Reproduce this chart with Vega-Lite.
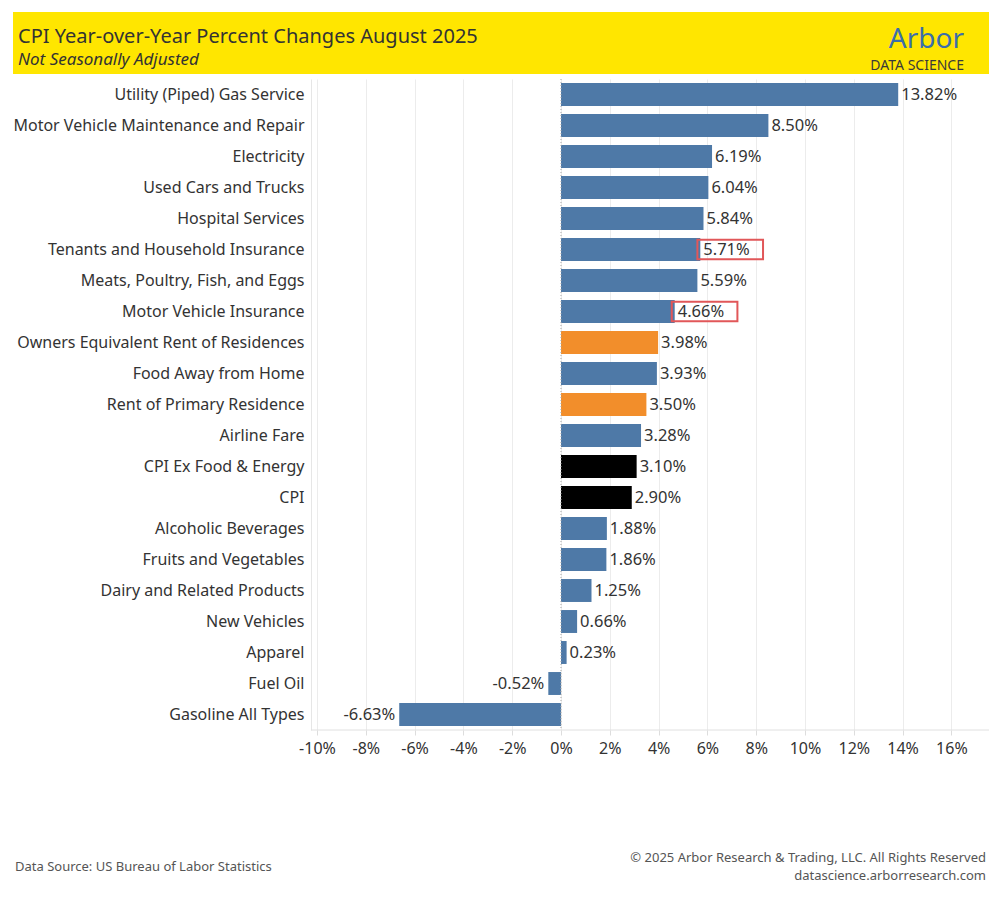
{
  "$schema": "https://vega.github.io/schema/vega-lite/v6.json",
  "padding": {"left": 12, "top": 12, "right": 12, "bottom": 0},
  "background": "white",
  "spacing": 4,
  "config": {
    "font": "Noto Sans",
    "view": {"stroke": null}
  },
  "vconcat": [
    {
      "width": 976,
      "height": 62,
      "view": {"fill": "#FFE600", "stroke": null},
      "title": {
        "text": "CPI Year-over-Year Percent Changes August 2025",
        "subtitle": "Not Seasonally Adjusted",
        "anchor": "start",
        "offset": -56,
        "dx": 5,
        "fontSize": 20,
        "fontWeight": "normal",
        "color": "#333333",
        "subtitleFontSize": 17,
        "subtitleFontStyle": "italic",
        "subtitleColor": "#333333",
        "subtitlePadding": 5
      },
      "data": {"values": [{"role": "brand", "text": "Arbor"}, {"role": "tag", "text": "DATA SCIENCE"}]},
      "layer": [
        {
          "transform": [{"filter": "datum.role === 'brand'"}],
          "mark": {"type": "text", "align": "right", "baseline": "alphabetic", "fontSize": 28, "color": "#3C6EAA", "dx": -25},
          "encoding": {"x": {"value": "width"}, "y": {"value": 36}, "text": {"field": "text"}}
        },
        {
          "transform": [{"filter": "datum.role === 'tag'"}],
          "mark": {"type": "text", "align": "right", "baseline": "middle", "fontSize": 14, "color": "#3a3a3a", "dx": -25},
          "encoding": {"x": {"value": "width"}, "y": {"value": 54}, "text": {"field": "text"}}
        }
      ]
    },
    {
      "width": 976,
      "height": 651,
      "data": {
        "values": [
          {"category": "Utility (Piped) Gas Service", "value": 13.82, "group": "Component"},
          {"category": "Motor Vehicle Maintenance and Repair", "value": 8.50, "group": "Component"},
          {"category": "Electricity", "value": 6.19, "group": "Component"},
          {"category": "Used Cars and Trucks", "value": 6.04, "group": "Component"},
          {"category": "Hospital Services", "value": 5.84, "group": "Component"},
          {"category": "Tenants and Household Insurance", "value": 5.71, "group": "Component", "flag": true},
          {"category": "Meats, Poultry, Fish, and Eggs", "value": 5.59, "group": "Component"},
          {"category": "Motor Vehicle Insurance", "value": 4.66, "group": "Component", "flag": true},
          {"category": "Owners Equivalent Rent of Residences", "value": 3.98, "group": "Shelter"},
          {"category": "Food Away from Home", "value": 3.93, "group": "Component"},
          {"category": "Rent of Primary Residence", "value": 3.50, "group": "Shelter"},
          {"category": "Airline Fare", "value": 3.28, "group": "Component"},
          {"category": "CPI Ex Food & Energy", "value": 3.10, "group": "Headline"},
          {"category": "CPI", "value": 2.90, "group": "Headline"},
          {"category": "Alcoholic Beverages", "value": 1.88, "group": "Component"},
          {"category": "Fruits and Vegetables", "value": 1.86, "group": "Component"},
          {"category": "Dairy and Related Products", "value": 1.25, "group": "Component"},
          {"category": "New Vehicles", "value": 0.66, "group": "Component"},
          {"category": "Apparel", "value": 0.23, "group": "Component"},
          {"category": "Fuel Oil", "value": -0.52, "group": "Component"},
          {"category": "Gasoline All Types", "value": -6.63, "group": "Component"}
        ]
      },
      "transform": [{"calculate": "replace(format(datum.value, '.2f'), '\u2212', '-') + '%'", "as": "label"}],
      "layer": [
        {
          "mark": {"type": "bar"},
          "encoding": {
            "y": {
              "field": "category",
              "type": "nominal",
              "sort": {"field": "value", "op": "max", "order": "descending"},
              "scale": {"paddingInner": 0.26, "paddingOuter": 0.13},
              "axis": {
                "title": null,
                "offset": -298,
                "ticks": false,
                "domain": true,
                "domainColor": "#e6e6e6",
                "labelFontSize": 16,
                "labelColor": "#333333",
                "labelPadding": 7,
                "labelLimit": 400
              }
            },
            "x": {
              "field": "value",
              "type": "quantitative",
              "scale": {"domain": [-22.459, 17.541], "nice": false, "zero": false},
              "axis": {
                "title": null,
                "values": [-10, -8, -6, -4, -2, 0, 2, 4, 6, 8, 10, 12, 14, 16],
                "labelExpr": "datum.value + '%'",
                "grid": true,
                "gridColor": "#ececec",
                "ticks": true,
                "tickSize": 5,
                "tickColor": "#dddddd",
                "domain": false,
                "labelFontSize": 16,
                "labelColor": "#333333",
                "labelPadding": 5,
                "labelOverlap": false,
                "labelFlush": false
              }
            },
            "color": {
              "field": "group",
              "type": "nominal",
              "scale": {"domain": ["Component", "Shelter", "Headline"], "range": ["#4E79A7", "#F28E2B", "#000000"]},
              "legend": null
            }
          }
        },
        {
          "data": {"values": [{}]},
          "mark": {"type": "rule", "strokeDash": [1, 2], "color": "#aaaaaa", "strokeWidth": 1},
          "encoding": {"x": {"datum": 0}}
        },
        {
          "data": {"values": [{}]},
          "mark": {"type": "rule", "color": "#e0e0e0", "strokeWidth": 1},
          "encoding": {"x": {"datum": -10.25}, "x2": {"datum": 17.541}, "y": {"value": "height"}}
        },
        {
          "transform": [{"filter": "datum.value >= 0"}],
          "mark": {"type": "text", "align": "left", "baseline": "middle", "dx": 3, "fontSize": 16.5, "color": "#333333"},
          "encoding": {
            "y": {"field": "category", "type": "nominal", "sort": {"field": "value", "op": "max", "order": "descending"}},
            "x": {"field": "value", "type": "quantitative"},
            "text": {"field": "label"}
          }
        },
        {
          "transform": [{"filter": "datum.value < 0"}],
          "mark": {"type": "text", "align": "right", "baseline": "middle", "dx": -4, "fontSize": 16.5, "color": "#333333"},
          "encoding": {
            "y": {"field": "category", "type": "nominal", "sort": {"field": "value", "op": "max", "order": "descending"}},
            "x": {"field": "value", "type": "quantitative"},
            "text": {"field": "label"}
          }
        },
        {
          "transform": [
            {"filter": "datum.flag === true"},
            {"calculate": "datum.value - 0.12", "as": "box_start"},
            {"calculate": "datum.value + 2.57", "as": "box_end"}
          ],
          "mark": {"type": "bar", "fill": null, "fillOpacity": 0, "stroke": "#E15759", "strokeWidth": 2, "height": {"band": 0.84}},
          "encoding": {
            "y": {"field": "category", "type": "nominal", "sort": {"field": "value", "op": "max", "order": "descending"}},
            "x": {"field": "box_start", "type": "quantitative"},
            "x2": {"field": "box_end"}
          }
        }
      ]
    },
    {
      "width": 976,
      "height": 135,
      "data": {
        "values": [
          {"role": "source", "text": "Data Source: US Bureau of Labor Statistics"},
          {"role": "copy", "text": "© 2025 Arbor Research & Trading, LLC. All Rights Reserved"},
          {"role": "site", "text": "datascience.arborresearch.com"}
        ]
      },
      "layer": [
        {
          "transform": [{"filter": "datum.role === 'source'"}],
          "mark": {"type": "text", "align": "left", "baseline": "middle", "fontSize": 13, "color": "#555555"},
          "encoding": {"x": {"value": 2}, "y": {"value": 107}, "text": {"field": "text"}}
        },
        {
          "transform": [{"filter": "datum.role === 'copy'"}],
          "mark": {"type": "text", "align": "right", "baseline": "middle", "fontSize": 13, "color": "#555555", "dx": -3},
          "encoding": {"x": {"value": "width"}, "y": {"value": 98}, "text": {"field": "text"}}
        },
        {
          "transform": [{"filter": "datum.role === 'site'"}],
          "mark": {"type": "text", "align": "right", "baseline": "middle", "fontSize": 13, "color": "#555555", "dx": -3},
          "encoding": {"x": {"value": "width"}, "y": {"value": 116}, "text": {"field": "text"}}
        }
      ]
    }
  ]
}
